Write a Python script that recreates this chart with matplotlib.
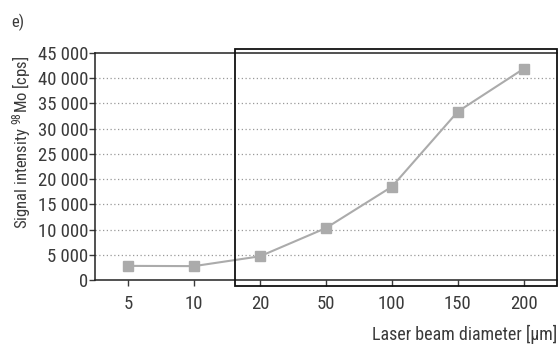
import matplotlib
matplotlib.use("Agg")
import matplotlib.pyplot as plt
from matplotlib.patches import Rectangle
from matplotlib import font_manager

flist = font_manager.fontManager.ttflist
names = {f.name for f in flist}
fam = None
for cand in ["Liberation Sans Narrow", "Roboto Condensed", "Open Sans Condensed",
             "DejaVu Sans Condensed", "Noto Sans Condensed"]:
    if cand in names:
        fam = cand
        break
stretch = "normal"
if fam is None:
    cond = [f for f in flist if f.stretch in ("condensed", "semi-condensed", 75, 87.5)
            or "Condensed" in f.fname or "Narrow" in f.fname]
    if cond:
        fam = cond[0].name
        stretch = "condensed"
    else:
        fam = "DejaVu Sans"
plt.rcParams['font.family'] = [fam, 'DejaVu Sans']
plt.rcParams['font.stretch'] = stretch
plt.rcParams['mathtext.fontset'] = 'custom'
plt.rcParams['mathtext.rm'] = fam
plt.rcParams['mathtext.it'] = fam

categories = ["5", "10", "20", "50", "100", "150", "200"]
values = [2800, 2750, 4700, 10300, 18500, 33400, 41900]
yticks = [0, 5000, 10000, 15000, 20000, 25000, 30000, 35000, 40000, 45000]
ytick_labels = ["0", "5 000", "10 000", "15 000", "20 000", "25 000",
                "30 000", "35 000", "40 000", "45 000"]

tc = "#3a3a3a"
fig = plt.figure(figsize=(5.58, 3.45), dpi=100)
ax = fig.add_axes([0.1703, 0.1884, 0.8277, 0.658])

x = list(range(len(categories)))
ax.plot(x, values, color="#ababab", lw=1.5, marker="s", ms=7,
        markerfacecolor="#ababab", markeredgecolor="#ababab", zorder=3)

ax.set_xlim(-0.5, len(categories) - 0.5)
ax.set_ylim(0, 45000)
ax.set_xticks(x)
ax.set_xticklabels(categories)
ax.set_yticks(yticks)
ax.set_yticklabels(ytick_labels)
for yv in yticks[1:-1]:
    ax.axhline(yv, color="#999999", lw=0.9, ls=(0, (1, 2)), zorder=1)

ax.tick_params(axis='both', direction='out', length=4, width=1, color=tc,
               labelcolor=tc, labelsize=13.5)
ax.tick_params(axis='x', pad=7)
ax.tick_params(axis='y', pad=1)
for s in ax.spines.values():
    s.set_color("#222222")
    s.set_linewidth(1.1)
ax.spines['right'].set_visible(False)

ax.set_ylabel(r"Signal intensity $^{98}$Mo [cps]", color=tc, fontsize=12)
ax.yaxis.set_label_coords(-0.135, 0.605)
ax.set_xlabel(u"Laser beam diameter [\u00b5m]", color=tc, fontsize=13)
ax.xaxis.set_label_coords(1.0, -0.2)
ax.xaxis.label.set_horizontalalignment('right')

ax.add_patch(Rectangle((0.303, -0.026), 0.697, 1.044, transform=ax.transAxes,
                       fill=False, edgecolor="#111111", lw=1.3, clip_on=False, zorder=5))

fig.text(0.02, 0.935, "e)", color=tc, fontsize=12, va="center", ha="left")

fig.savefig("out.png", dpi=100)
